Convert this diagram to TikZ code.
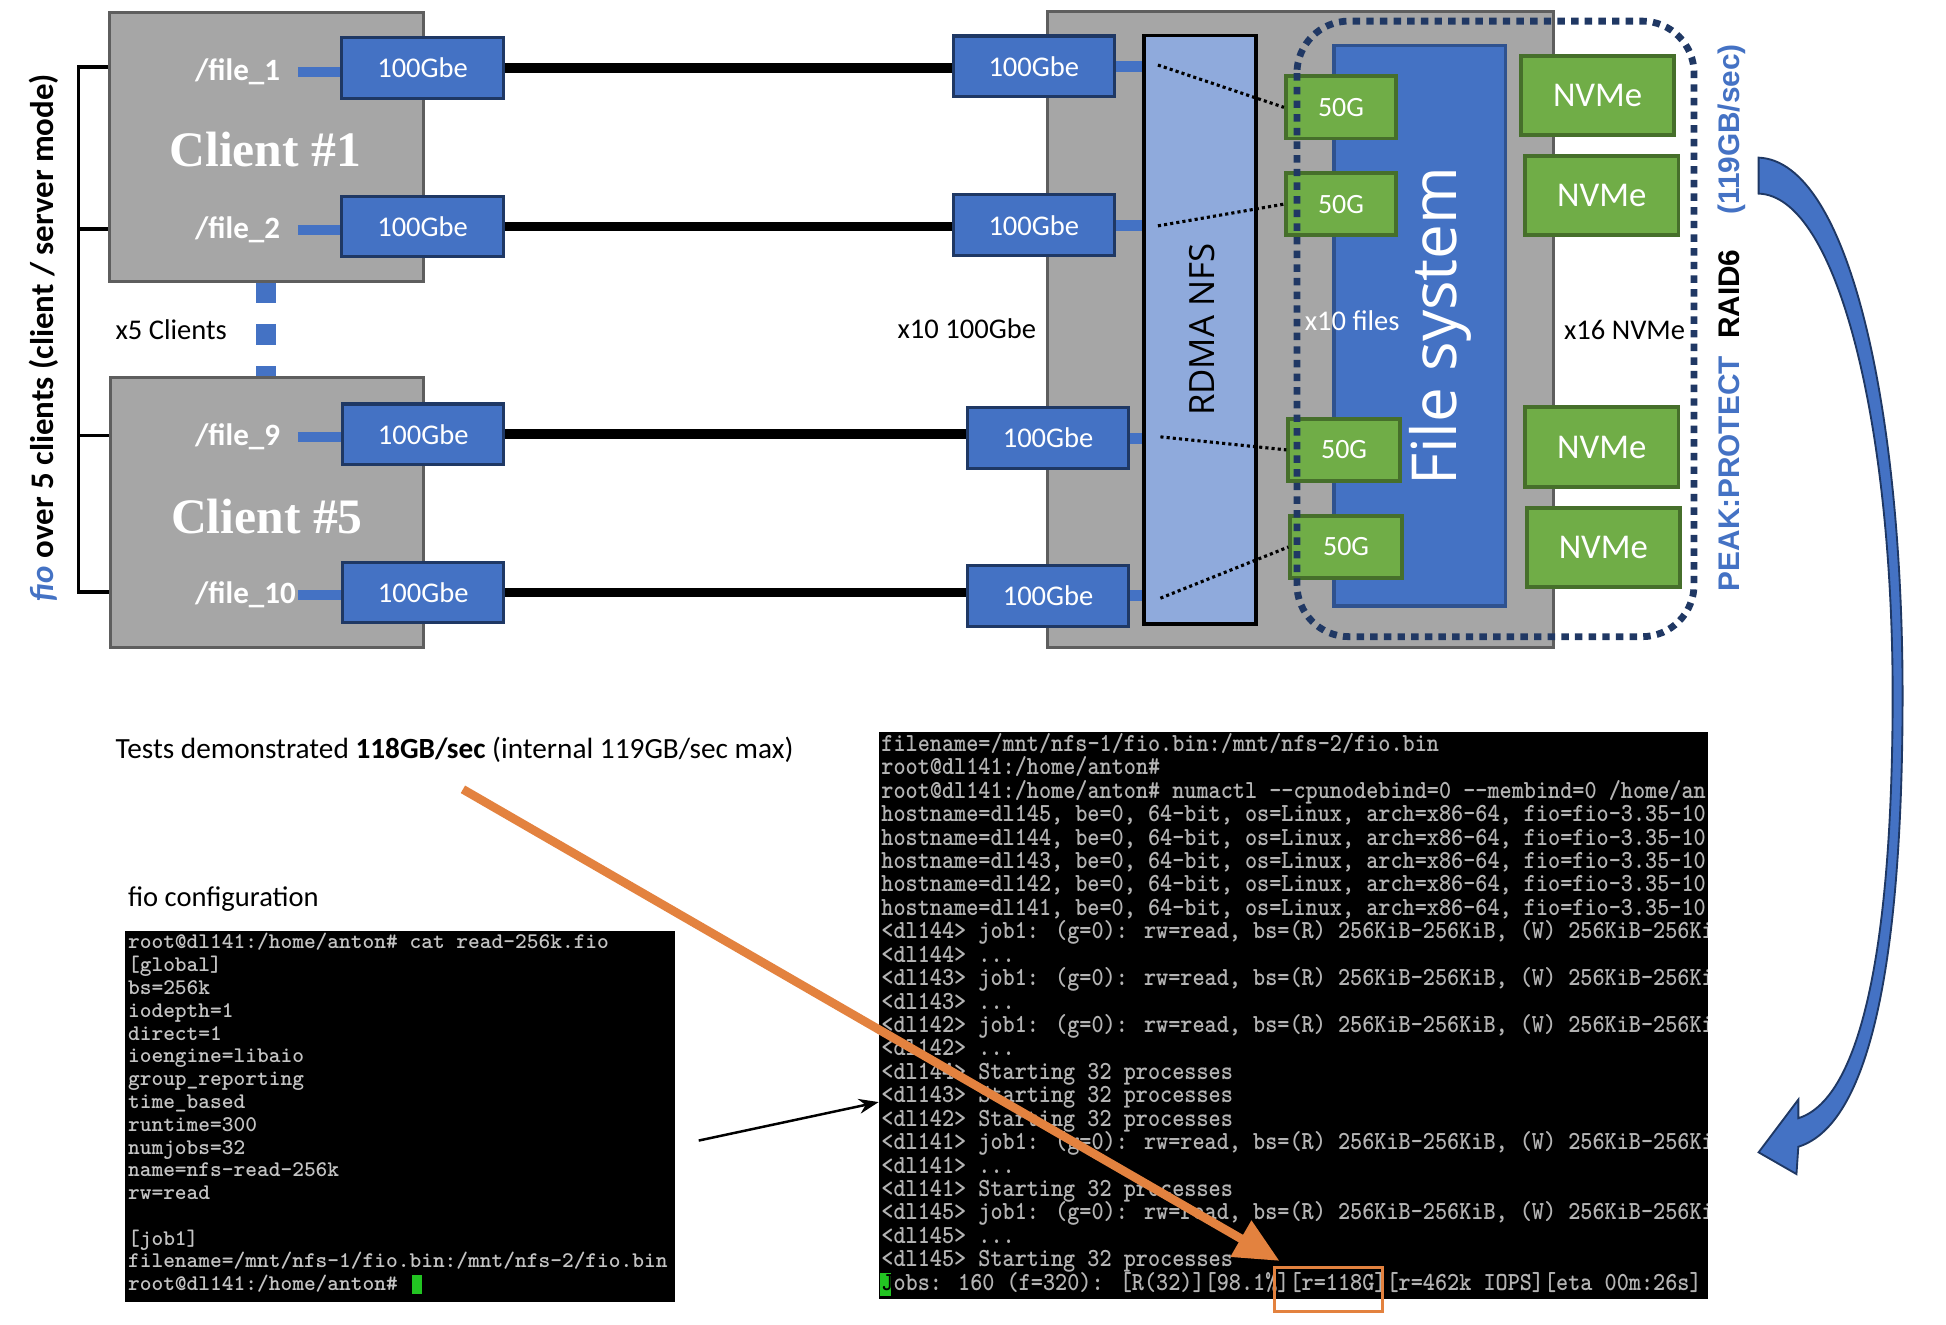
\documentclass[tikz,border=0pt]{standalone}
\usepackage{fontspec}
\setmainfont{Carlito}
\newfontfamily\serifbf{Liberation Serif}
\newfontfamily\osans{Open Sans}
\newfontfamily\asans{Liberation Sans}
\newfontfamily\monoL{lmmonolt10-bold}[Extension=.otf]
\newfontfamily\monoR{lmmonolt10-bold}[Extension=.otf,FakeStretch=0.886]
\usetikzlibrary{arrows.meta}
\newcommand\fsz[1]{\fontsize{#1}{#1}\selectfont}
\definecolor{cgray}{HTML}{A6A6A6}
\definecolor{cgrayd}{HTML}{5E5E5E}
\definecolor{cblue}{HTML}{4472C4}
\definecolor{cnavy}{HTML}{1F3864}
\definecolor{clblue}{HTML}{8FAADC}
\definecolor{cgreen}{HTML}{70AD47}
\definecolor{cgreend}{HTML}{466F2B}
\definecolor{cfsb}{HTML}{2F528F}
\definecolor{cdash}{HTML}{203864}
\definecolor{corange}{HTML}{E3823F}
\definecolor{ctermL}{HTML}{C4C4C4}
\definecolor{ctermR}{HTML}{B4B4B4}
\definecolor{ccursor}{HTML}{22C422}
\newcommand\termL[2]{\node[ltxt] (L#1) at (103,{764.6+(#1-1)*18.36}) {#2};}
\newcommand\termR[2]{\node[rtxt] (R#1) at (710,{605.5+(#1-1)*18.87}) {#2};}
\begin{document}
\begin{tikzpicture}[x=1pt,y=-1pt,
  graybox/.style={draw=cgrayd, fill=cgray, line width=2.5pt, inner sep=0pt},
  eth/.style={draw=cnavy, fill=cblue, line width=2.5pt, minimum width=130pt, minimum height=49pt, inner sep=0pt, text=white, font=\fsz{23}},
  gbox/.style={draw=cgreend, fill=cgreen, line width=3pt, inner sep=0pt, text=white},
  g50/.style={gbox, minimum width=89pt, minimum height=50pt, font=\fsz{22.5}},
  nvme/.style={gbox, minimum width=123.5pt, minimum height=64pt, font=\fsz{28}},
  flbl/.style={text=white, font=\bfseries\fsz{25}, anchor=west, inner sep=0pt},
  bluelink/.style={cblue, line width=8pt},
  cable/.style={black, line width=8pt},
  nfsdot/.style={black, line width=2.5pt, dash pattern=on 2.5pt off 2.5pt},
  txt/.style={inner sep=0pt, font=\fsz{23}},
  ltxt/.style={inner sep=0pt, anchor=base west, text=ctermL, font={\monoL\fsz{18}}},
  rtxt/.style={inner sep=0pt, anchor=base west, text=ctermR, font={\monoR\fsz{21}}},
]
\useasboundingbox (0,0) rectangle (1568,1067);
\fill[white] (0,0) rectangle (1568,1067);

% ---------- clients ----------
\draw[cblue, line width=16pt, dash pattern=on 17pt off 17pt] (214.5,227) -- (214.5,304);
\node[graybox, minimum width=253pt, minimum height=217pt] (c1) at (214.5,118.5) {};
\node[graybox, minimum width=252.5pt, minimum height=218pt] (c5) at (215,413) {};
\node[text=white, font=\serifbf\bfseries\fsz{40}, inner sep=0pt] (c1t) at (213.7,120.6) {Client \#1};
\node[text=white, font=\serifbf\bfseries\fsz{40}, inner sep=0pt] (c5t) at (215,416) {Client \#5};

\node[eth] (e1) at (340.5,54.7) {100Gbe};
\node[eth] (e2) at (340.5,182.5) {100Gbe};
\node[eth] (e3) at (341,350) {100Gbe};
\node[eth] (e4) at (341,477.4) {100Gbe};

\coordinate (fc1) at (240,57.7);
\coordinate (fc2) at (240,185.2);
\coordinate (fc3) at (240,352.2);
\coordinate (fc4) at (240,479.6);
\draw[bluelink] (fc1) -- (fc1 -| e1.west);
\draw[bluelink] (fc2) -- (fc2 -| e2.west);
\draw[bluelink] (fc3) -- (fc3 -| e3.west);
\draw[bluelink] (fc4) -- (fc4 -| e4.west);
\node[flbl] (f1) at (157,57.7) {/file\_1};
\node[flbl] (f2) at (157,185.2) {/file\_2};
\node[flbl] (f9) at (157,352.2) {/file\_9};
\node[flbl] (f10) at (157,479.6) {/file\_10};

\node[txt] (x5) at (138,265.6) {x5 Clients};

% bracket
\coordinate (b1) at (63,54);
\coordinate (b2) at (63,184.5);
\coordinate (b3) at (63,351);
\coordinate (b4) at (63,477);
\draw[black, line width=2.5pt] (b1 -| c1.west) -- (b1) -- (b4) -- (b4 -| c5.west);
\draw[black, line width=2.5pt] (b2) -- (b2 -| c1.west);
\draw[black, line width=2.5pt] (b3) -- (b3 -| c5.west);
\node[rotate=90, inner sep=0pt, font=\bfseries\fsz{26.5}] (fiolbl) at (35,272) {\textcolor{cblue}{\itshape fio} over 5 clients (client / server mode)};

% ---------- server ----------
\node[graybox, minimum width=408pt, minimum height=512.5pt] (srv) at (1048,265.8) {};
\node[eth] (s1) at (833,53.5) {100Gbe};
\node[eth] (s2) at (833,181.5) {100Gbe};
\node[eth] (s3) at (844.5,353) {100Gbe};
\node[eth] (s4) at (844.5,480) {100Gbe};

\draw[cable] (e1.east) -- (e1.east -| s1.west);
\draw[cable] (e2.east) -- (e2.east -| s2.west);
\draw[cable] (e3.east) -- (e3.east -| s3.west);
\draw[cable] (e4.east) -- (e4.east -| s4.west);

\node[txt] (x10g) at (779,265) {x10 100Gbe};

\node[draw=black, fill=clblue, line width=3pt, minimum width=90.5pt, minimum height=474pt, inner sep=0pt] (rdma) at (966.75,265.6) {};
\draw[cblue, line width=9pt] (s1.east) -- (s1.east -| rdma.west);
\draw[cblue, line width=9pt] (s2.east) -- (s2.east -| rdma.west);
\draw[cblue, line width=9pt] (s3.east) -- (s3.east -| rdma.west);
\draw[cblue, line width=9pt] (s4.east) -- (s4.east -| rdma.west);
\node[rotate=90, inner sep=0pt, font=\osans\fsz{28}] (rdmat) at (968.6,265.6) {RDMA NFS};

\node[draw=cfsb, fill=cblue, line width=3pt, minimum width=138.4pt, minimum height=451.3pt, inner sep=0pt] (fs) at (1143.8,262.35) {};
\node[rotate=90, inner sep=0pt, text=white, font=\osans\fsz{50}] (fst) at (1160.7,262.8) {File system};

\node[g50] (g1) at (1080.5,86.5) {50G};
\node[g50] (g2) at (1080.5,164.5) {50G};
\node[g50, minimum width=90pt] (g3) at (1083,362.5) {50G};
\node[g50, minimum width=90pt] (g4) at (1084.6,440.75) {50G};

\coordinate (d1) at (933,52.4);
\coordinate (d2) at (933,182);
\coordinate (d3) at (935,352);
\coordinate (d4) at (935,482);
\draw[nfsdot] (d1) -- (g1.west);
\draw[nfsdot] (d2) -- (g2.west);
\draw[nfsdot] (d3) -- (g3.west);
\draw[nfsdot] (d4) -- (g4.west);

\node[nvme] (n1) at (1287.25,76.85) {NVMe};
\node[nvme] (n2) at (1290.6,157.5) {NVMe};
\node[nvme] (n3) at (1290.6,360.2) {NVMe};
\node[nvme] (n4) at (1291.9,441.25) {NVMe};

\node[txt, text=white] (x10f) at (1089.5,258.6) {x10 files};
\node[txt] (x16) at (1309,265.6) {x16 NVMe};

\draw[cdash, line width=5.5pt, dash pattern=on 6pt off 5pt, rounded corners=42pt] (1045,17) rectangle (1365,513);

\node[rotate=90, inner sep=0pt, font=\asans\bfseries\fsz{24}] (raid) at (1395,256) {\textcolor{cblue}{PEAK:PROTECT}\hspace{14pt}RAID6\hspace{28pt}\textcolor{cblue}{(119GB/sec)}};

% curved block arrow
\filldraw[fill=cblue, draw=cnavy, line width=1.5pt, line join=miter]
  (1417,127) .. controls (1490,130) and (1533,330) .. (1533,560)
  .. controls (1533,760) and (1510,905) .. (1449,924)
  -- (1447.5,946) -- (1417,928.5) -- (1449,886) -- (1449,901)
  .. controls (1500,885) and (1525,760) .. (1525,560)
  .. controls (1525,340) and (1480,158) .. (1417,156) -- cycle;

% ---------- bottom ----------
\node[txt, anchor=west, font=\fsz{23.6}] (tests) at (93,604) {Tests demonstrated \textbf{118GB/sec} (internal 119GB/sec max)};
\node[txt, anchor=west] (fioconf) at (103,724.5) {fio configuration};

\node[fill=black, minimum width=443pt, minimum height=299pt, inner sep=0pt] (lterm) at (322.5,899.5) {};
\node[fill=black, minimum width=668pt, minimum height=457pt, inner sep=0pt] (rterm) at (1042,818.5) {};

\begin{scope}
\clip (101,750) rectangle (544,1049);
\termL{1}{root@dl141:/home/anton\# cat read-256k.fio}
\termL{2}{[global]}
\termL{3}{bs=256k}
\termL{4}{iodepth=1}
\termL{5}{direct=1}
\termL{6}{ioengine=libaio}
\termL{7}{group\_reporting}
\termL{8}{time\_based}
\termL{9}{runtime=300}
\termL{10}{numjobs=32}
\termL{11}{name=nfs-read-256k}
\termL{12}{rw=read}
\termL{14}{[job1]}
\termL{15}{filename=/mnt/nfs-1/fio.bin:/mnt/nfs-2/fio.bin}
\termL{16}{root@dl141:/home/anton\#}
\fill[ccursor] (332,1027) rectangle (340,1043);
\end{scope}

\begin{scope}
\clip (708,590) rectangle (1376,1047);
\fill[ccursor] (709,1026) rectangle (718,1044);
\termR{1}{filename=/mnt/nfs-1/fio.bin:/mnt/nfs-2/fio.bin}
\termR{2}{root@dl141:/home/anton\#}
\termR{3}{root@dl141:/home/anton\# numactl --cpunodebind=0 --membind=0 /home/an}
\termR{4}{hostname=dl145, be=0, 64-bit, os=Linux, arch=x86-64, fio=fio-3.35-10}
\termR{5}{hostname=dl144, be=0, 64-bit, os=Linux, arch=x86-64, fio=fio-3.35-10}
\termR{6}{hostname=dl143, be=0, 64-bit, os=Linux, arch=x86-64, fio=fio-3.35-10}
\termR{7}{hostname=dl142, be=0, 64-bit, os=Linux, arch=x86-64, fio=fio-3.35-10}
\termR{8}{hostname=dl141, be=0, 64-bit, os=Linux, arch=x86-64, fio=fio-3.35-10}
\termR{9}{<dl144> job1: (g=0): rw=read, bs=(R) 256KiB-256KiB, (W) 256KiB-256Ki}
\termR{10}{<dl144> ...}
\termR{11}{<dl143> job1: (g=0): rw=read, bs=(R) 256KiB-256KiB, (W) 256KiB-256Ki}
\termR{12}{<dl143> ...}
\termR{13}{<dl142> job1: (g=0): rw=read, bs=(R) 256KiB-256KiB, (W) 256KiB-256Ki}
\termR{14}{<dl142> ...}
\termR{15}{<dl144> Starting 32 processes}
\termR{16}{<dl143> Starting 32 processes}
\termR{17}{<dl142> Starting 32 processes}
\termR{18}{<dl141> job1: (g=0): rw=read, bs=(R) 256KiB-256KiB, (W) 256KiB-256Ki}
\termR{19}{<dl141> ...}
\termR{20}{<dl141> Starting 32 processes}
\termR{21}{<dl145> job1: (g=0): rw=read, bs=(R) 256KiB-256KiB, (W) 256KiB-256Ki}
\termR{22}{<dl145> ...}
\termR{23}{<dl145> Starting 32 processes}
\termR{24}{\textcolor{black}{J}obs: 160 (f=320): [R(32)][98.1\%][r=118G][r=462k IOPS][eta 00m:26s]}
\end{scope}

\node[draw=corange, line width=2.5pt, minimum width=87pt, minimum height=36pt, inner sep=0pt] (obox) at (1070.5,1039) {};
\coordinate (ostart) at (373,636);
\coordinate (otip) at (1031,1016);
\draw[corange, line width=7pt, -{Triangle[length=36pt,width=32pt]}] (ostart) -- (otip);
\coordinate (bstart) at (563,919);
\coordinate (bend) at (708,888);
\draw[black, line width=2pt, -{Stealth[length=16pt,width=12pt]}] (bstart) -- (bend);
\end{tikzpicture}
\end{document}
